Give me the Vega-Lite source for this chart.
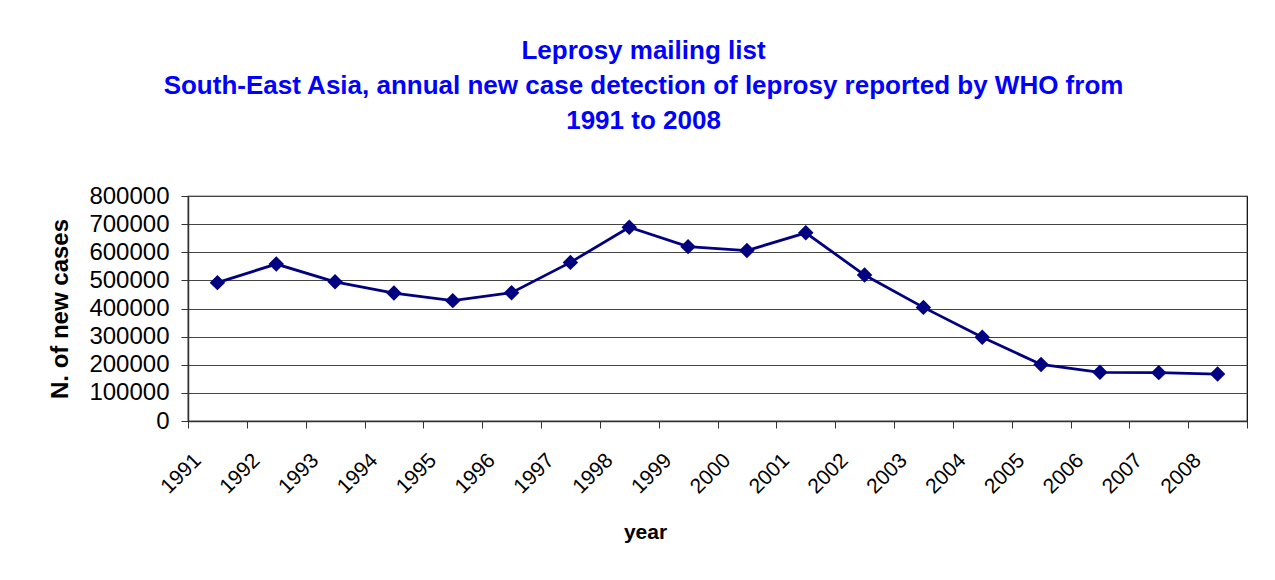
{
  "$schema": "https://vega.github.io/schema/vega-lite/v6.json",
  "autosize": {"type": "none"},
  "width": 1059,
  "height": 225,
  "padding": {"left": 188, "top": 196, "right": 28, "bottom": 159},
  "background": "#ffffff",
  "title": {
    "text": ["Leprosy mailing list", "South-East Asia, annual new case detection of leprosy reported by WHO from", "1991 to 2008"],
    "color": "#0000ff",
    "font": "Liberation Sans",
    "fontSize": 26,
    "fontWeight": "bold",
    "lineHeight": 35,
    "anchor": "middle",
    "frame": "group",
    "dx": -74,
    "offset": 50
  },
  "data": {
    "values": [
      {"year": "1991", "cases": 492000},
      {"year": "1992", "cases": 558000},
      {"year": "1993", "cases": 495000},
      {"year": "1994", "cases": 455000},
      {"year": "1995", "cases": 428000},
      {"year": "1996", "cases": 456000},
      {"year": "1997", "cases": 564000},
      {"year": "1998", "cases": 689000},
      {"year": "1999", "cases": 620000},
      {"year": "2000", "cases": 606000},
      {"year": "2001", "cases": 669000},
      {"year": "2002", "cases": 519000},
      {"year": "2003", "cases": 404000},
      {"year": "2004", "cases": 298000},
      {"year": "2005", "cases": 201000},
      {"year": "2006", "cases": 173000},
      {"year": "2007", "cases": 172000},
      {"year": "2008", "cases": 167000}
    ]
  },
  "encoding": {
    "x": {
      "field": "year",
      "type": "ordinal",
      "sort": null,
      "scale": {"type": "band", "paddingInner": 0, "paddingOuter": 0},
      "axis": {
        "title": "year",
        "titleFont": "Liberation Sans",
        "titleFontSize": 21,
        "titleFontWeight": "bold",
        "titleColor": "#000000",
        "titleX": 457,
        "titleY": 111,
        "titleAlign": "center",
        "titleBaseline": "middle",
        "titleAnchor": null,
        "labelAngle": -45,
        "labelAlign": "right",
        "labelBaseline": "middle",
        "labelOffset": -20,
        "labelPadding": 29,
        "labelFont": "Liberation Sans",
        "labelFontSize": 21,
        "labelColor": "#000000",
        "tickBand": "extent",
        "tickSize": 7,
        "tickColor": "#333333",
        "domainColor": "#333333",
        "domainWidth": 1.5,
        "grid": false
      }
    },
    "y": {
      "field": "cases",
      "type": "quantitative",
      "scale": {"domain": [0, 800000], "nice": false},
      "axis": {
        "title": "N. of new cases",
        "titleFont": "Liberation Sans",
        "titleFontSize": 24,
        "titleFontWeight": "bold",
        "titleColor": "#000000",
        "titleAngle": -90,
        "titleX": -128,
        "titleY": 112.5,
        "titleAlign": "center",
        "titleBaseline": "middle",
        "titleAnchor": null,
        "values": [0, 100000, 200000, 300000, 400000, 500000, 600000, 700000, 800000],
        "format": "d",
        "labelFont": "Liberation Sans",
        "labelFontSize": 24,
        "labelColor": "#000000",
        "labelPadding": 12,
        "tickSize": 7,
        "tickColor": "#333333",
        "domainColor": "#333333",
        "domainWidth": 1.5,
        "grid": true,
        "gridColor": "#444444",
        "gridWidth": 1
      }
    }
  },
  "layer": [
    {
      "mark": {"type": "line", "color": "#000080", "strokeWidth": 2.8}
    },
    {
      "mark": {"type": "point", "shape": "diamond", "filled": true, "color": "#000080", "size": 240, "opacity": 1}
    }
  ],
  "config": {
    "view": {"stroke": "#000000", "strokeWidth": 1.2}
  }
}
